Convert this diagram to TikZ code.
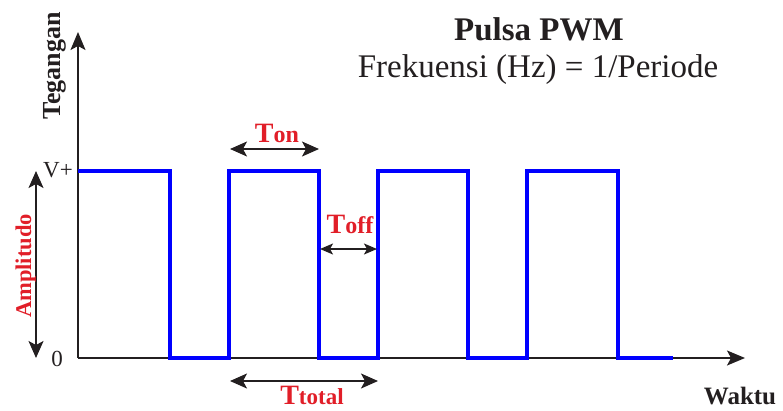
\documentclass[tikz,border=0pt]{standalone}
\usepackage{fontspec}
\setmainfont{Liberation Serif}
\usetikzlibrary{arrows.meta}
\definecolor{ink}{RGB}{35,31,32}
\definecolor{lab}{RGB}{225,30,40}
\definecolor{wave}{RGB}{0,0,255}
\begin{document}
\begin{tikzpicture}[x=1pt,y=-1pt,
  axis/.style={draw=ink,line width=1.5pt,-{Stealth[length=18pt,width=15pt,inset=4pt]}},
  dim/.style={draw=ink,line width=1.5pt,{Stealth[length=17pt,width=15pt,inset=4pt]}-{Stealth[length=17pt,width=15pt,inset=4pt]}},
  smalldim/.style={draw=ink,line width=1.5pt,{Stealth[length=13pt,width=11pt,inset=3pt]}-{Stealth[length=13pt,width=11pt,inset=3pt]}},
  pulse/.style={draw=wave,line width=4pt},
  txt/.style={inner sep=0pt,text=ink},
  redlab/.style={inner sep=0pt,text=lab,font=\bfseries\fontsize{28}{30}\selectfont}]
\useasboundingbox (0,0) rectangle (783,410);
% axes
\coordinate (O) at (78,358);
\coordinate (ytop) at (78,32);
\coordinate (xend) at (745,358);
\draw[axis] (O) -- (ytop);
\draw[axis] (O) -- (xend);
% waveform
\draw[pulse] (78,171) -- (170,171) -- (170,358) -- (229,358) -- (229,171)
  -- (319,171) -- (319,358) -- (378,358) -- (378,171) -- (468,171)
  -- (468,358) -- (527,358) -- (527,171) -- (618,171) -- (618,358) -- (673,358);
% dimension arrows
\coordinate (ton1) at (230,149); \coordinate (ton2) at (319,149);
\coordinate (toff1) at (320,249); \coordinate (toff2) at (377,249);
\coordinate (tt1) at (230,381); \coordinate (tt2) at (378,381);
\coordinate (am1) at (36,171); \coordinate (am2) at (36,358);
\draw[dim] (ton1) -- (ton2);
\draw[smalldim] (toff1) -- (toff2);
\draw[dim] (tt1) -- (tt2);
\draw[dim] (am1) -- (am2);
% texts
\node[txt,anchor=base,font=\bfseries\fontsize{33}{36}\selectfont] (title) at (539,40) {Pulsa PWM};
\node[txt,anchor=base,font=\fontsize{33}{36}\selectfont] (freq) at (538,77) {Frekuensi (Hz) = 1/Periode};
\node[txt,anchor=base,rotate=90,font=\bfseries\fontsize{26}{28}\selectfont] (teg) at (60,66) {Tegangan};
\node[txt,anchor=base,rotate=90,text=lab,font=\bfseries\fontsize{22.5}{25}\selectfont] (amp) at (31,266) {Amplitudo};
\node[txt,anchor=base east,font=\fontsize{23}{25}\selectfont] (vplus) at (73,177) {V+};
\node[txt,anchor=base east,font=\fontsize{23}{25}\selectfont] (zero) at (63,366) {0};
\node[redlab,anchor=base] (ton) at (277,142) {T\fontsize{24}{26}\selectfont on};
\node[redlab,anchor=base] (toff) at (350,233) {T\fontsize{24}{26}\selectfont off};
\node[redlab,anchor=base] (ttotal) at (312,404) {T\fontsize{23}{26}\selectfont total};
\node[txt,anchor=base,font=\bfseries\fontsize{25}{28}\selectfont] (waktu) at (740,404) {Waktu};
\end{tikzpicture}
\end{document}
